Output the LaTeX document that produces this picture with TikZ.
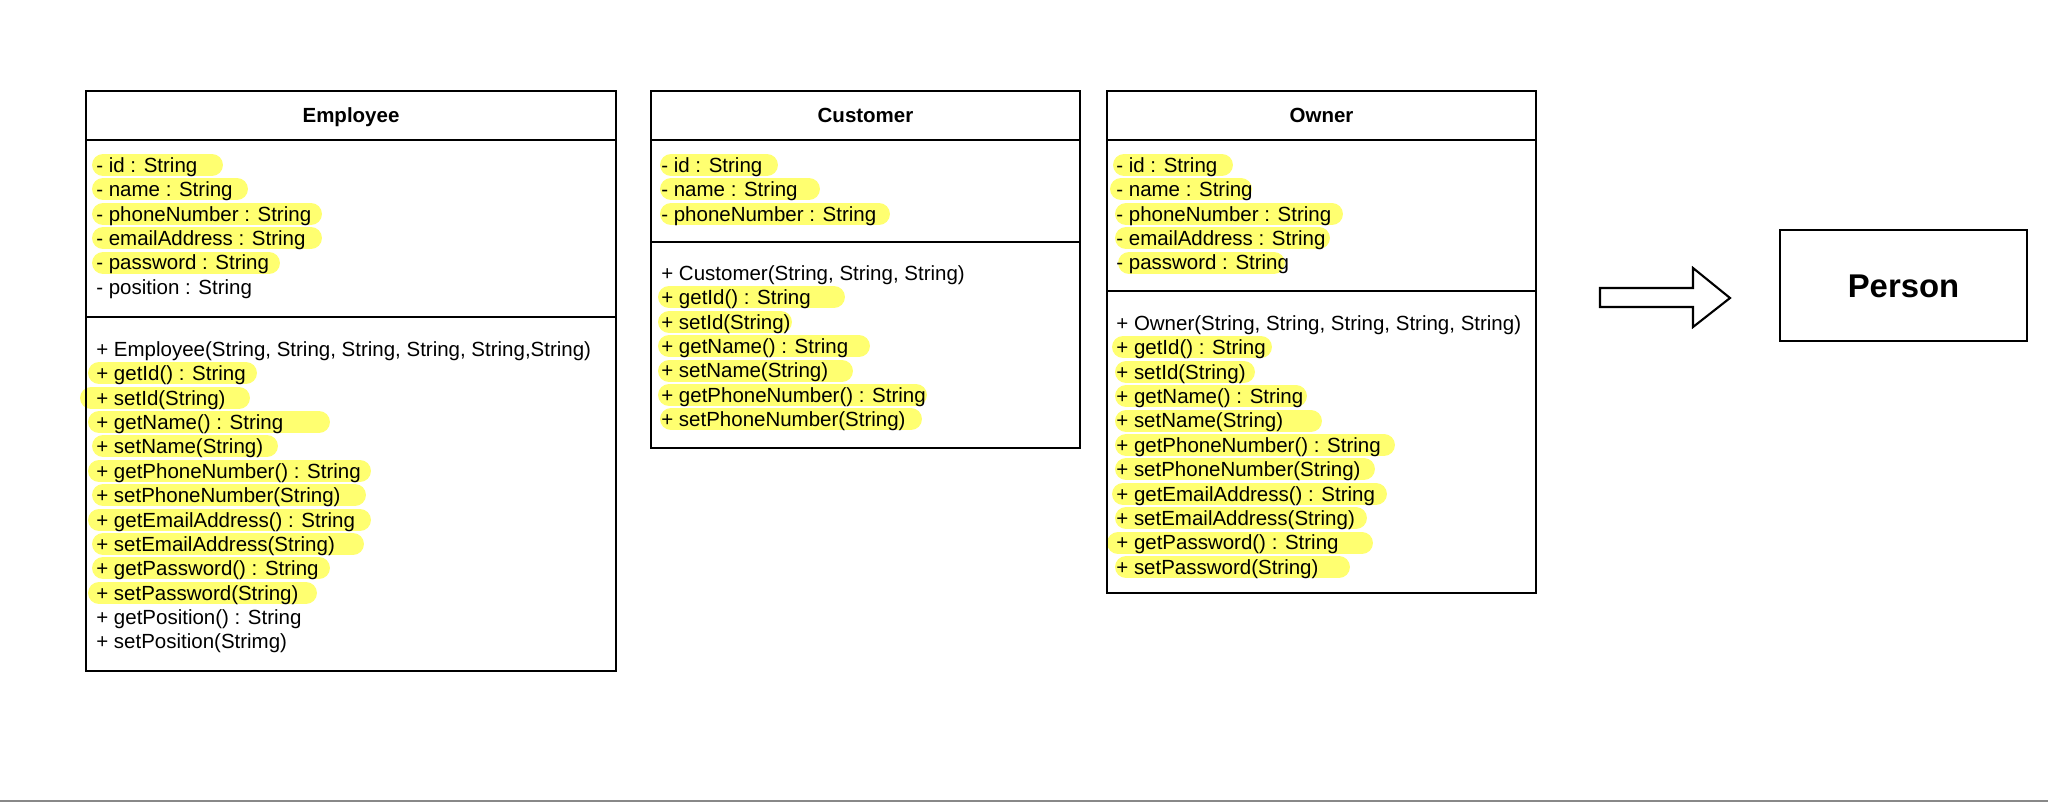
\documentclass[tikz,border=0pt]{standalone}
\usepackage{fontspec}
\setmainfont{Liberation Sans}
\definecolor{marker}{RGB}{255,255,112}
\definecolor{rule}{RGB}{136,136,136}
\tikzset{
  box/.style={line width=1.2pt},
  txt/.style={anchor=west, inner sep=0pt, text height=8.4pt, text depth=0pt,
    font=\fontsize{11.66}{13.9}\selectfont},
  title/.style={inner sep=0pt, text height=8.4pt, text depth=0pt,
    font=\fontsize{11.66}{13.9}\selectfont\bfseries},
  hilite/.style={draw=marker, line width=12.5pt, line cap=round}
}
% evidenziatore: y, x iniziale, x finale
\newcommand{\hl}[3]{\draw[hilite] (#2+11,#1) -- (#3-11,#1);}
\begin{document}
\begin{tikzpicture}[x=0.02cm,y=-0.02cm]
			\useasboundingbox (0,0) rectangle (2048,802);
			\fill[rule] (0,800) rectangle (2048,802);

			% Evidenziature
			\hl{165}{92}{223} \hl{189}{92}{248} \hl{214}{92}{322}
			\hl{238}{92}{322} \hl{263}{92}{280}
			\hl{373}{88}{257} \hl{398}{80}{250} \hl{422}{88}{330}
			\hl{446}{92}{278} \hl{471}{88}{371} \hl{495}{92}{366}
			\hl{520}{88}{371} \hl{544}{92}{364} \hl{568}{92}{330}
			\hl{593}{88}{317}

			\hl{165}{660}{778} \hl{189}{660}{820} \hl{214}{660}{890}
			\hl{297}{658}{845} \hl{322}{658}{792} \hl{346}{658}{870}
			\hl{371}{658}{853} \hl{395}{658}{927} \hl{419}{660}{922}

			\hl{165}{1113}{1233} \hl{189}{1110}{1252} \hl{214}{1115}{1343}
			\hl{238}{1115}{1330} \hl{263}{1118}{1285}
			\hl{347}{1112}{1272} \hl{372}{1115}{1255} \hl{396}{1115}{1307}
			\hl{421}{1115}{1322} \hl{445}{1115}{1395} \hl{469}{1115}{1375}
			\hl{494}{1112}{1387} \hl{518}{1115}{1367} \hl{543}{1107}{1373}
			\hl{567}{1115}{1350}

			% Classi
			\draw[box] (86,91) rectangle (616,671);
			\draw[box] (86,140) -- (616,140);
			\draw[box] (86,317) -- (616,317);

			\draw[box] (651,91) rectangle (1080,448);
			\draw[box] (651,140) -- (1080,140);
			\draw[box] (651,242) -- (1080,242);

			\draw[box] (1107,91) rectangle (1536,593);
			\draw[box] (1107,140) -- (1536,140);
			\draw[box] (1107,291) -- (1536,291);

			% Employee
			\node[title] (emp) at (351,115) {Employee};
			\node[txt] (ea1) at (96,165) {- id : String};
			\node[txt] (ea2) at (96,189.4) {- name : String};
			\node[txt] (ea3) at (96,213.8) {- phoneNumber : String};
			\node[txt] (ea4) at (96,238.2) {- emailAddress : String};
			\node[txt] (ea5) at (96,262.6) {- password : String};
			\node[txt] (ea6) at (96,287) {- position : String};

			\node[txt] (em1) at (96,349) {+ Employee(String, String, String, String, String,String)};
			\node[txt] (em2) at (96,373.4) {+ getId() : String};
			\node[txt] (em3) at (96,397.8) {+ setId(String)};
			\node[txt] (em4) at (96,422.1) {+ getName() : String};
			\node[txt] (em5) at (96,446.5) {+ setName(String)};
			\node[txt] (em6) at (96,470.9) {+ getPhoneNumber() : String};
			\node[txt] (em7) at (96,495.3) {+ setPhoneNumber(String)};
			\node[txt] (em8) at (96,519.7) {+ getEmailAddress() : String};
			\node[txt] (em9) at (96,544) {+ setEmailAddress(String)};
			\node[txt] (em10) at (96,568.4) {+ getPassword() : String};
			\node[txt] (em11) at (96,592.8) {+ setPassword(String)};
			\node[txt] (em12) at (96,617.2) {+ getPosition() : String};
			\node[txt] (em13) at (96,641.6) {+ setPosition(Strimg)};

			% Customer
			\node[title] (cus) at (865.5,115) {Customer};
			\node[txt] (ca1) at (661,165) {- id : String};
			\node[txt] (ca2) at (661,189.4) {- name : String};
			\node[txt] (ca3) at (661,213.8) {- phoneNumber : String};

			\node[txt] (cm1) at (661,273) {+ Customer(String, String, String)};
			\node[txt] (cm2) at (661,297.4) {+ getId() : String};
			\node[txt] (cm3) at (661,321.8) {+ setId(String)};
			\node[txt] (cm4) at (661,346.2) {+ getName() : String};
			\node[txt] (cm5) at (661,370.6) {+ setName(String)};
			\node[txt] (cm6) at (661,395) {+ getPhoneNumber() : String};
			\node[txt] (cm7) at (661,419.4) {+ setPhoneNumber(String)};

			% Owner
			\node[title] (own) at (1321.5,115) {Owner};
			\node[txt] (oa1) at (1116,165) {- id : String};
			\node[txt] (oa2) at (1116,189.4) {- name : String};
			\node[txt] (oa3) at (1116,213.8) {- phoneNumber : String};
			\node[txt] (oa4) at (1116,238.2) {- emailAddress : String};
			\node[txt] (oa5) at (1116,262.6) {- password : String};

			\node[txt] (om1) at (1116,323) {+ Owner(String, String, String, String, String)};
			\node[txt] (om2) at (1116,347.4) {+ getId() : String};
			\node[txt] (om3) at (1116,371.8) {+ setId(String)};
			\node[txt] (om4) at (1116,396.2) {+ getName() : String};
			\node[txt] (om5) at (1116,420.6) {+ setName(String)};
			\node[txt] (om6) at (1116,445) {+ getPhoneNumber() : String};
			\node[txt] (om7) at (1116,469.4) {+ setPhoneNumber(String)};
			\node[txt] (om8) at (1116,493.8) {+ getEmailAddress() : String};
			\node[txt] (om9) at (1116,518.2) {+ setEmailAddress(String)};
			\node[txt] (om10) at (1116,542.6) {+ getPassword() : String};
			\node[txt] (om11) at (1116,567) {+ setPassword(String)};

			% Freccia e Person
			\draw[box, line join=miter] (1600,288) -- (1693,288) -- (1693,268) -- (1730,298)
			  -- (1693,327) -- (1693,307) -- (1600,307) -- cycle;
			\node[box, draw, minimum width=4.94cm, minimum height=2.22cm, inner sep=0pt,
			  text height=13.4pt, text depth=0pt, font=\fontsize{18.7}{22}\selectfont\bfseries]
			  (person) at (1903.5,285.5) {Person};

		\end{tikzpicture}
\end{document}
